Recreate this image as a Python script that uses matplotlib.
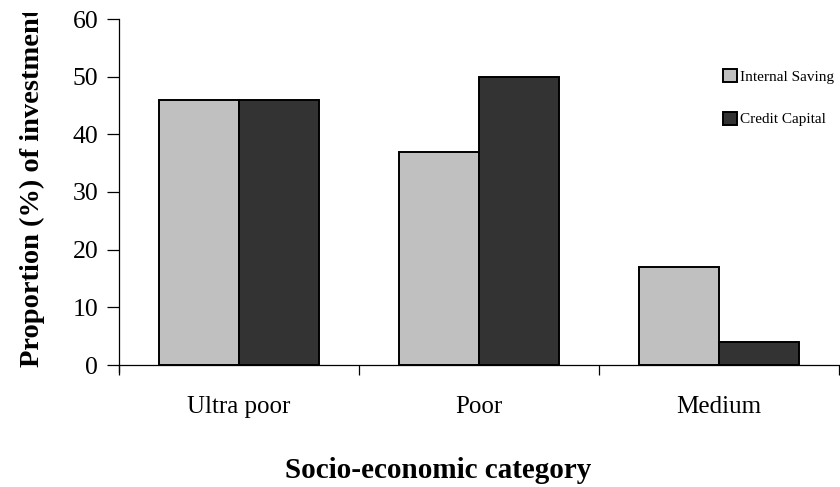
import matplotlib
matplotlib.use("Agg")
import matplotlib.pyplot as plt
import numpy as np
from matplotlib.transforms import Bbox, TransformedBbox

categories = ["Ultra poor", "Poor", "Medium"]
internal_saving = [46, 37, 17]
credit_capital = [46, 50, 4]
series_names = ["Internal Saving", "Credit Capital"]
y_ticks = [0, 10, 20, 30, 40, 50, 60]

plt.rcParams["font.family"] = ["Liberation Serif", "DejaVu Serif"]

W, H = 840, 487
fig = plt.figure(figsize=(W / 100, H / 100), dpi=100)
ax = fig.add_axes([119 / W, 1 - 365 / H, 720 / W, (365 - 19) / H])

x = np.arange(len(categories))
bw = 1 / 3
ax.bar(x - bw / 2, internal_saving, width=bw, color="#C0C0C0",
       edgecolor="black", linewidth=1.4, label=series_names[0])
ax.bar(x + bw / 2, credit_capital, width=bw, color="#333333",
       edgecolor="black", linewidth=1.4, label=series_names[1])

ax.set_xlim(-0.5, len(categories) - 0.5)
ax.set_ylim(0, 60)
ax.set_yticks(y_ticks)
ax.tick_params(axis="y", labelsize=18.5, length=9, width=0.9, pad=6)

ax.set_xticks(x)
ax.set_xticklabels(categories, fontsize=18)
ax.tick_params(axis="x", which="major", length=0, pad=22)
ax.set_xticks(np.arange(-0.5, len(categories), 1), minor=True)
ax.tick_params(axis="x", which="minor", length=7, width=0.9, direction="out")

for side in ("top", "right"):
    ax.spines[side].set_visible(False)
ax.spines["left"].set_linewidth(0.9)
ax.spines["bottom"].set_linewidth(0.9)
ax.spines["left"].set_bounds(-1.3, 60)

leg = ax.legend(loc="upper left", bbox_to_anchor=(723 / W, 1 - 69 / H),
                bbox_transform=fig.transFigure, frameon=False, fontsize=11,
                handlelength=0.9, handleheight=0.9, handletextpad=0.2,
                labelspacing=1.85, borderpad=0, borderaxespad=0)

fig.text(438 / W, 1 - 478 / H, "Socio-economic category", fontsize=21,
         fontweight="bold", ha="center", va="baseline")

ylab = fig.text(32 / W, 1 - 367 / H, "Proportion (%) of investment",
                fontsize=20.5, fontweight="bold", rotation=90,
                ha="center", va="bottom")
ylab.set_clip_box(TransformedBbox(Bbox([[0, 0], [1, 1 - 13 / H]]),
                                  fig.transFigure))
ylab.set_clip_on(True)

fig.savefig("out.png", dpi=100)
